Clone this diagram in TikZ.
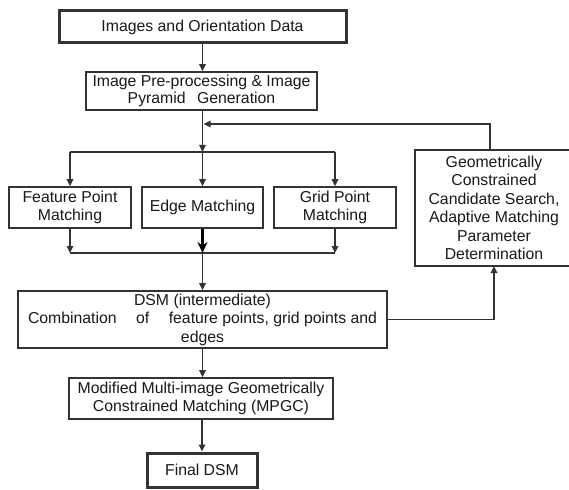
\documentclass[tikz,border=0pt]{standalone}
\usepackage{fontspec}
\setmainfont{Liberation Sans}
\usetikzlibrary{arrows.meta}
\definecolor{ink}{gray}{0.2}
\tikzset{
  box/.style={draw=ink, line width=1.6pt, fill=white, inner sep=0pt, align=center, text=black!90,
    font=\fontsize{15.8}{18.5}\selectfont},
  thickbox/.style={box, line width=3pt},
  arr/.style={draw=ink, line width=1.6pt, -{Triangle[length=7pt,width=6.5pt]}},
  bigarr/.style={draw=black, line width=2.4pt, -{Stealth[length=11pt,width=10pt]}},
  plain/.style={draw=ink, line width=1.6pt}
}
\begin{document}
\begin{tikzpicture}[x=1pt,y=-1pt]
\useasboundingbox (0,0) rectangle (569,489);
% nodes
\node[thickbox, minimum width=287pt, minimum height=32pt] (top) at (202.5,27) {Images and Orientation Data};
\node[box, minimum width=231pt, minimum height=38pt, font=\fontsize{15.8}{17.5}\selectfont] (pre) at (201.5,91) {Image Pre-processing \& Image\\Pyramid\hspace{7pt} Generation};
\node[box, minimum width=122pt, minimum height=41pt] (feat) at (70,207.5) {Feature Point\\Matching};
\node[box, minimum width=121pt, minimum height=41pt] (edge) at (202.5,207.5) {Edge Matching};
\node[box, minimum width=122pt, minimum height=41pt] (grid) at (335,207.5) {Grid Point\\Matching};
\node[box, minimum width=158pt, minimum height=116pt] (geo) at (494,208) {Geometrically\\Constrained\\Candidate Search,\\Adaptive Matching\\Parameter\\Determination};
\node[box, minimum width=369pt, minimum height=57pt] (dsm) at (202.5,319.5) {DSM (intermediate)\\\makebox[349pt]{Combination\hfill of\hfill feature points, grid points and}\\edges};
\node[box, minimum width=264pt, minimum height=41pt] (mpgc) at (201,398.5) {Modified Multi-image Geometrically\\Constrained Matching (MPGC)};
\node[thickbox, minimum width=110pt, minimum height=34pt] (final) at (202,470) {Final DSM};
% coordinates
\coordinate (J) at (202.5,152);
\coordinate (M) at (202.5,253);
\coordinate (FB) at (203.5,124);
\coordinate (GT) at (490,150);
\coordinate (GB) at (494,266);
% connectors
\draw[arr] (top.south) -- (top.south |- pre.north);
\draw[arr] (pre.south -| J) -- (J);
\draw[plain] (feat.north |- J) -- (grid.north |- J);
\draw[arr] (J) -- (edge.north);
\draw[arr] (feat.north |- J) -- (feat.north);
\draw[arr] (grid.north |- J) -- (grid.north);
\draw[arr] (GT) |- (FB);
\draw[arr] (feat.south) -- (feat.south |- M);
\draw[arr] (grid.south) -- (grid.south |- M);
\draw[plain] (feat.south |- M) -- (grid.south |- M);
\draw[bigarr] (edge.south) -- (M);
\draw[arr] (M) -- (dsm.north);
\draw[arr] (dsm.east) -| (GB);
\draw[arr] (dsm.south) -- (dsm.south |- mpgc.north);
\draw[arr] (mpgc.south -| final.north) -- (final.north);
\end{tikzpicture}
\end{document}
